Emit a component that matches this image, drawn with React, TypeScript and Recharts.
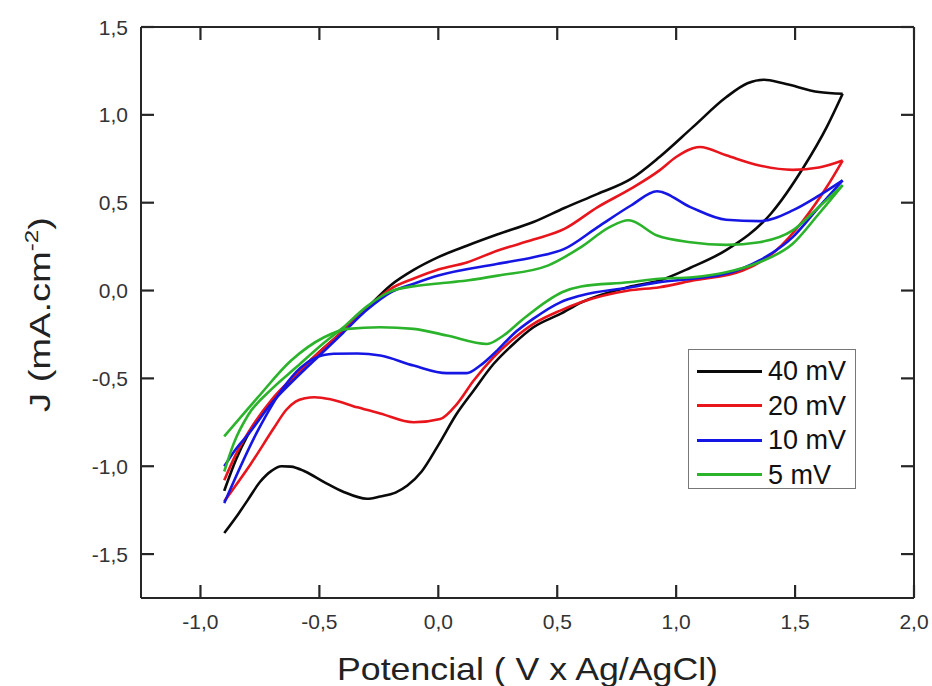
import React from 'react';
import { LineChart, Line, XAxis, YAxis, Legend } from 'recharts';

// ---- axes ----
const X_DOMAIN = [-1.25, 2.0];
const Y_DOMAIN = [-1.75, 1.5];
const X_TICKS = [-1.0, -0.5, 0.0, 0.5, 1.0, 1.5, 2.0];
const Y_TICKS = [-1.5, -1.0, -0.5, 0.0, 0.5, 1.0, 1.5];
const X_TITLE = 'Potencial ( V x Ag/AgCl)';
const Y_TITLE_MAIN = 'J (mA.cm';
const Y_TITLE_SUP = '-2';
const Y_TITLE_END = ')';

// ---- series: [potential (V), current density (mA/cm2)] ----
const s40Forward = [
  [-0.9, -1.14], [-0.85, -0.96], [-0.8, -0.82], [-0.7, -0.63], [-0.6, -0.48], [-0.5, -0.35],
  [-0.4, -0.23], [-0.3, -0.1], [-0.2, 0.03], [-0.1, 0.12], [0.0, 0.19], [0.12, 0.255],
  [0.25, 0.32], [0.4, 0.39], [0.53, 0.47], [0.67, 0.55], [0.81, 0.635], [0.93, 0.76],
  [1.07, 0.93], [1.21, 1.1], [1.3, 1.18], [1.37, 1.2], [1.45, 1.18], [1.6, 1.13], [1.7, 1.12],
];
const s40Reverse = [
  [-0.9, -1.38], [-0.84, -1.27], [-0.8, -1.19], [-0.75, -1.09], [-0.7, -1.025], [-0.66, -1.0],
  [-0.62, -1.002], [-0.56, -1.03], [-0.48, -1.09], [-0.4, -1.145], [-0.3, -1.185], [-0.244, -1.172],
  [-0.18, -1.15], [-0.13, -1.11], [-0.07, -1.03], [0.0, -0.88], [0.078, -0.7], [0.148, -0.57],
  [0.232, -0.418], [0.316, -0.304], [0.4, -0.209], [0.513, -0.133], [0.6, -0.068], [0.8, 0.02],
  [0.93, 0.057], [1.06, 0.13], [1.21, 0.23], [1.4, 0.44], [1.535, 0.7], [1.633, 0.93], [1.7, 1.12],
];
const s20Forward = [
  [-0.9, -1.08], [-0.85, -0.93], [-0.8, -0.81], [-0.7, -0.62], [-0.6, -0.48], [-0.5, -0.35],
  [-0.4, -0.23], [-0.3, -0.1], [-0.2, 0.01], [-0.1, 0.07], [0.0, 0.12], [0.12, 0.16],
  [0.25, 0.228], [0.4, 0.29], [0.53, 0.351], [0.67, 0.475], [0.81, 0.58], [0.93, 0.684],
  [1.0, 0.76], [1.07, 0.81], [1.1, 0.817], [1.21, 0.77], [1.35, 0.712], [1.49, 0.687],
  [1.6, 0.7], [1.7, 0.74],
];
const s20Reverse = [
  [-0.9, -1.2], [-0.79, -0.99], [-0.69, -0.78], [-0.64, -0.68], [-0.6, -0.632], [-0.56, -0.613],
  [-0.52, -0.607], [-0.45, -0.62], [-0.34, -0.665], [-0.244, -0.7], [-0.104, -0.75], [0.008, -0.731],
  [0.078, -0.646], [0.148, -0.513], [0.232, -0.38], [0.316, -0.275], [0.4, -0.19], [0.513, -0.114],
  [0.6, -0.067], [0.8, 0.0], [0.93, 0.019], [1.07, 0.057], [1.28, 0.114], [1.42, 0.228],
  [1.535, 0.4], [1.633, 0.589], [1.7, 0.74],
];
const s10Forward = [
  [-0.9, -1.0], [-0.85, -0.9], [-0.8, -0.82], [-0.7, -0.64], [-0.6, -0.5], [-0.5, -0.37],
  [-0.4, -0.24], [-0.3, -0.11], [-0.2, -0.01], [-0.1, 0.04], [0.0, 0.085], [0.25, 0.152],
  [0.4, 0.19], [0.53, 0.237], [0.67, 0.361], [0.81, 0.484], [0.92, 0.565], [1.06, 0.475],
  [1.21, 0.403], [1.35, 0.395], [1.49, 0.456], [1.6, 0.54], [1.7, 0.627],
];
const s10Reverse = [
  [-0.9, -1.21], [-0.76, -0.8], [-0.65, -0.55], [-0.58, -0.44], [-0.52, -0.385], [-0.44, -0.36],
  [-0.34, -0.358], [-0.244, -0.37], [-0.104, -0.427], [0.036, -0.47], [0.12, -0.47], [0.176, -0.427],
  [0.247, -0.342], [0.316, -0.247], [0.4, -0.16], [0.513, -0.067], [0.6, -0.028], [0.81, 0.019],
  [0.93, 0.048], [1.07, 0.067], [1.21, 0.095], [1.35, 0.171], [1.49, 0.304], [1.6, 0.475], [1.7, 0.627],
];
const s5Forward = [
  [-0.9, -1.03], [-0.86, -0.87], [-0.8, -0.71], [-0.7, -0.56], [-0.6, -0.44], [-0.5, -0.32],
  [-0.4, -0.21], [-0.3, -0.09], [-0.2, -0.005], [-0.1, 0.025], [0.0, 0.04], [0.12, 0.057],
  [0.25, 0.085], [0.46, 0.142], [0.6, 0.247], [0.72, 0.361], [0.8, 0.4], [0.92, 0.313],
  [1.06, 0.275], [1.21, 0.26], [1.35, 0.275], [1.49, 0.342], [1.6, 0.475], [1.7, 0.6],
];
const s5Reverse = [
  [-0.9, -0.83], [-0.76, -0.61], [-0.62, -0.4], [-0.48, -0.266], [-0.38, -0.218], [-0.244, -0.209],
  [-0.104, -0.218], [0.036, -0.256], [0.205, -0.304], [0.274, -0.256], [0.358, -0.161], [0.457, -0.06],
  [0.52, -0.01], [0.6, 0.023], [0.8, 0.047], [0.93, 0.067], [1.07, 0.076], [1.21, 0.104],
  [1.35, 0.161], [1.49, 0.266], [1.6, 0.437], [1.7, 0.6],
];

const SERIES_NAMES = ['40 mV', '20 mV', '10 mV', '5 mV'];
const SERIES_COLORS = ['#0a0a0a', '#e8151c', '#1616e4', '#2bb32b'];
const SERIES_BRANCHES = [
  [s40Forward, s40Reverse],
  [s20Forward, s20Reverse],
  [s10Forward, s10Reverse],
  [s5Forward, s5Reverse],
];

const FONT = '"Liberation Sans", Arial, Helvetica, sans-serif';
const AXIS = '#262626';
const TICK_LEN = 13;

const toPoints = (arr) => arr.map(([x, y]) => ({ x, y }));
const fmt = (v) => (Math.abs(v) < 1e-9 ? 0 : v).toFixed(1).replace('.', ',');

const BottomTick = (props) => {
  const { x, y, payload } = props;
  return (
    <g>
      <line x1={x} y1={y} x2={x} y2={y - TICK_LEN} stroke={AXIS} strokeWidth={2.2} />
      <text x={x} y={y + 31} textAnchor="middle" fontSize={21} fill="#333" fontFamily={FONT}>
        {fmt(payload.value)}
      </text>
    </g>
  );
};
const LeftTick = (props) => {
  const { x, y, payload } = props;
  return (
    <g>
      <line x1={x} y1={y} x2={x + TICK_LEN} y2={y} stroke={AXIS} strokeWidth={2.2} />
      <text x={x - 13} y={y + 7.5} textAnchor="end" fontSize={21} fill="#333" fontFamily={FONT}>
        {fmt(payload.value)}
      </text>
    </g>
  );
};
const TopTick = (props) => {
  const { x, y } = props;
  return <line x1={x} y1={y} x2={x} y2={y + TICK_LEN} stroke={AXIS} strokeWidth={2.2} />;
};
const RightTick = (props) => {
  const { x, y } = props;
  return <line x1={x} y1={y} x2={x - TICK_LEN} y2={y} stroke={AXIS} strokeWidth={2.2} />;
};

const XTitle = (props) => {
  const vb = props.viewBox || {};
  const cx = vb.x + vb.width / 2;
  return (
    <text x={cx} y={680} textAnchor="middle" fontSize={32} fill="#222" fontFamily={FONT}
      textLength={381} lengthAdjust="spacingAndGlyphs">
      {X_TITLE}
    </text>
  );
};
const YTitle = (props) => {
  const vb = props.viewBox || {};
  const cy = vb.y + vb.height / 2;
  return (
    <text transform={`translate(50, ${cy + 2}) rotate(-90)`} x={0} y={0} textAnchor="middle"
      fontSize={30} fill="#222" fontFamily={FONT} textLength={195} lengthAdjust="spacingAndGlyphs">
      {Y_TITLE_MAIN}
      <tspan dy={-12} fontSize={19}>{Y_TITLE_SUP}</tspan>
      <tspan dy={12}>{Y_TITLE_END}</tspan>
    </text>
  );
};

const LegendBox = () => (
  <div
    style={{
      border: '1px solid #777',
      background: '#fff',
      width: 168,
      height: 140,
      boxSizing: 'border-box',
      padding: '4px 0 0 8px',
      fontFamily: FONT,
    }}
  >
    {SERIES_NAMES.map((name, i) => (
      <div key={name} style={{ display: 'flex', alignItems: 'center', height: 34.5 }}>
        <div style={{ width: 65, height: 3, background: SERIES_COLORS[i], marginRight: 6 }} />
        <span style={{ fontSize: 27, color: '#111', lineHeight: '30px' }}>{name}</span>
      </div>
    ))}
  </div>
);

export default function App() {
  return (
    <div style={{ position: 'absolute', left: 0, top: 0, background: '#fff' }}>
      <LineChart
        width={932}
        height={686}
        margin={{ top: 26, right: 17, bottom: 28, left: 81 }}
        style={{ background: '#fff' }}
      >
        <XAxis
          xAxisId="b"
          dataKey="x"
          type="number"
          domain={X_DOMAIN}
          ticks={X_TICKS}
          interval={0}
          allowDataOverflow
          height={60}
          tickSize={0}
          tickMargin={0}
          tickLine={false}
          axisLine={{ stroke: AXIS, strokeWidth: 2 }}
          tick={<BottomTick />}
          label={<XTitle />}
        />
        <XAxis
          xAxisId="t"
          orientation="top"
          dataKey="x"
          type="number"
          domain={X_DOMAIN}
          ticks={X_TICKS}
          interval={0}
          allowDataOverflow
          height={1}
          tickSize={0}
          tickMargin={0}
          tickLine={false}
          axisLine={{ stroke: AXIS, strokeWidth: 2 }}
          tick={<TopTick />}
        />
        <YAxis
          yAxisId="l"
          type="number"
          domain={Y_DOMAIN}
          ticks={Y_TICKS}
          interval={0}
          allowDataOverflow
          width={60}
          tickSize={0}
          tickMargin={0}
          tickLine={false}
          axisLine={{ stroke: AXIS, strokeWidth: 2 }}
          tick={<LeftTick />}
          label={<YTitle />}
        />
        <YAxis
          yAxisId="r"
          orientation="right"
          type="number"
          domain={Y_DOMAIN}
          ticks={Y_TICKS}
          interval={0}
          allowDataOverflow
          width={1}
          tickSize={0}
          tickMargin={0}
          tickLine={false}
          axisLine={{ stroke: AXIS, strokeWidth: 2 }}
          tick={<RightTick />}
        />
        {SERIES_BRANCHES.map((branches, i) =>
          branches.map((branch, j) => (
            <Line
              key={`${i}-${j}`}
              xAxisId={j === 0 ? 'b' : 't'}
              yAxisId={j === 0 ? 'l' : 'r'}
              data={toPoints(branch)}
              dataKey="y"
              name={SERIES_NAMES[i]}
              type="monotone"
              stroke={SERIES_COLORS[i]}
              strokeWidth={2.6}
              dot={false}
              activeDot={false}
              isAnimationActive={false}
              legendType={j === 0 ? 'line' : 'none'}
            />
          ))
        )}
        <Legend
          layout="horizontal"
          verticalAlign="middle"
          align="center"
          content={<LegendBox />}
          wrapperStyle={{ position: 'absolute', left: 688, top: 349, width: 168, height: 140 }}
        />
      </LineChart>
    </div>
  );
}
